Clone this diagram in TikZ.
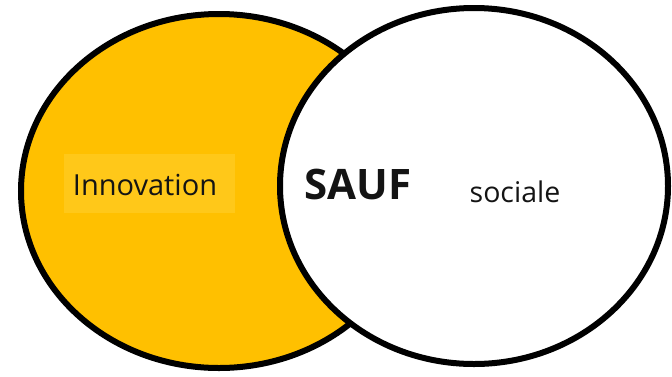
\documentclass[tikz,border=0pt]{standalone}
\usepackage{fontspec}
\setmainfont{Open Sans}
\definecolor{gold}{HTML}{FFC000}
\definecolor{goldlight}{HTML}{FFC819}
\begin{document}
\begin{tikzpicture}[x=1pt,y=-1pt,
  ring/.style={draw=black, line width=6pt},
  lbl/.style={anchor=base, inner sep=0pt, text=black!92}]
\useasboundingbox (0,0) rectangle (672,376);
\fill[white] (0,0) rectangle (672,376);
\draw[ring, fill=gold] (219,191) ellipse [x radius=198, y radius=177];
\fill[goldlight] (64,154) rectangle (235,213);
\node[lbl, font=\fontsize{29}{34}\selectfont] (innov) at (145,195) {Innovation};
\draw[ring, fill=white] (474,186) ellipse [x radius=194, y radius=178];
\node[lbl, font=\fontsize{42}{48}\selectfont\bfseries] (sauf) at (358,199) {SAUF};
\node[lbl, font=\fontsize{28.5}{34}\selectfont] (soc) at (515,202) {sociale};
\end{tikzpicture}
\end{document}
